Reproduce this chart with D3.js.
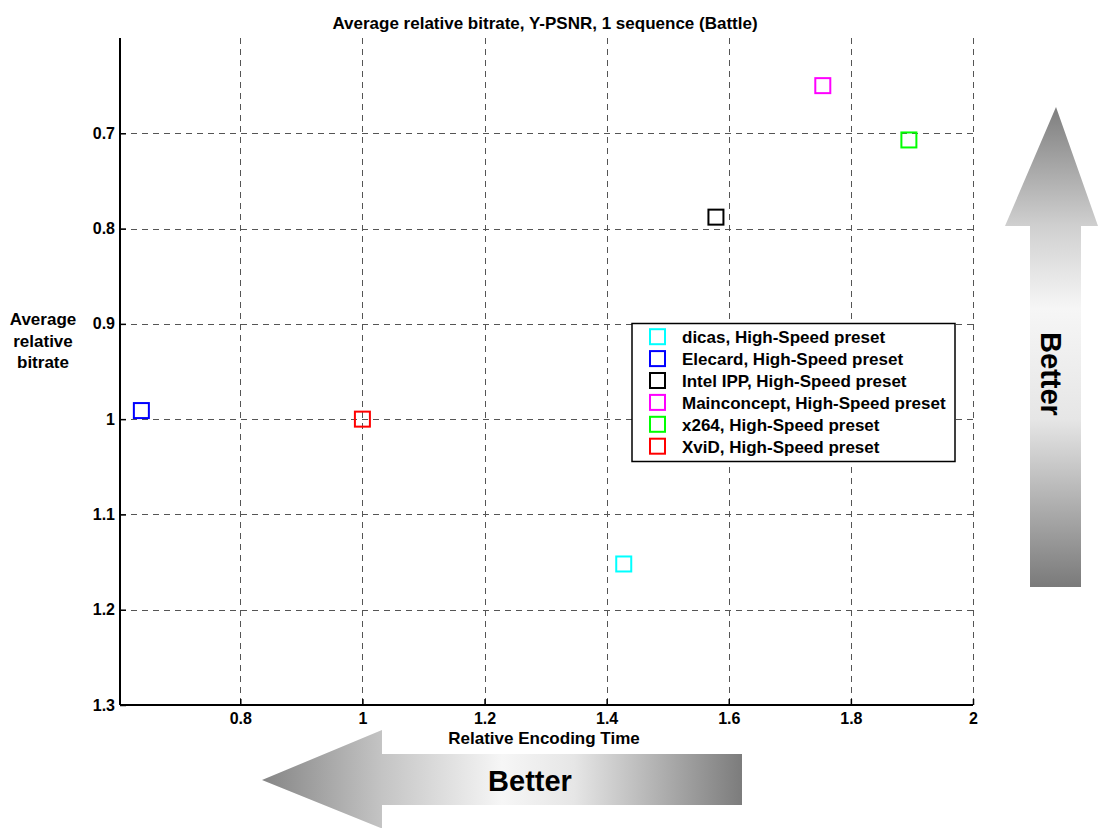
<!DOCTYPE html>
<html><head><meta charset="utf-8">
<script src="https://cdn.jsdelivr.net/npm/d3@7"></script>
<style>body{margin:0;background:#fff}svg{display:block}text{font-family:"Liberation Sans",Arial,sans-serif;font-weight:bold}</style>
</head><body><svg id="c" width="1099" height="828"></svg>
<script>
const codecs = ["dicas, High-Speed preset","Elecard, High-Speed preset","Intel IPP, High-Speed preset","Mainconcept, High-Speed preset","x264, High-Speed preset","XviD, High-Speed preset"];
const colors = ["#00ffff","#0000ff","#000000","#ff00ff","#00ff00","#ff0000"];
const encTime = [1.428, 0.638, 1.579, 1.754, 1.895, 1.0];
const bitrate = [1.152, 0.991, 0.788, 0.650, 0.707, 1.0];
const xTicks = [0.8, 1, 1.2, 1.4, 1.6, 1.8, 2];
const yTicks = [0.7, 0.8, 0.9, 1, 1.1, 1.2, 1.3];

const svg = d3.select("#c");
const L=120, R=973, T=38, B=705;
const x = d3.scaleLinear().domain([0.603, 2]).range([L, R]);
const y = d3.scaleLinear().domain([0.6, 1.3]).range([T, B]);

// grid
const g = svg.append("g");
g.selectAll(".vg").data(xTicks).join("line")
  .attr("x1",d=>Math.round(x(d))+0.5).attr("x2",d=>Math.round(x(d))+0.5)
  .attr("y1",T).attr("y2",B).attr("stroke","#555").attr("stroke-dasharray","6,5");
g.selectAll(".hg").data(yTicks).join("line")
  .attr("y1",d=>Math.round(y(d))+0.5).attr("y2",d=>Math.round(y(d))+0.5)
  .attr("x1",L).attr("x2",R).attr("stroke","#555").attr("stroke-dasharray","6,5");

// axes
const xa = svg.append("g").attr("transform",`translate(0,${B})`)
  .call(d3.axisBottom(x).tickValues(xTicks).tickSize(-6).tickPadding(8).tickFormat(d3.format("~g")));
const ya = svg.append("g").attr("transform",`translate(${L},0)`)
  .call(d3.axisLeft(y).tickValues(yTicks).tickSize(-6).tickPadding(5).tickFormat(d3.format("~g")));
[xa,ya].forEach(a=>{
  a.select(".domain").attr("stroke","#000").attr("stroke-width",2);
  a.selectAll(".tick line").attr("stroke","#000").attr("stroke-width",1.5);
  a.selectAll("text").attr("font-size",16).attr("font-family","Liberation Sans, Arial").attr("font-weight","bold").attr("fill","#000");
});
xa.select(".domain").attr("d",`M${L},0H${R}`);
ya.select(".domain").attr("d",`M0,${T}V${B}`);

// title & labels
svg.append("text").attr("x",545).attr("y",28.7).attr("text-anchor","middle").attr("font-size",17).text("Average relative bitrate, Y-PSNR, 1 sequence (Battle)");
svg.append("text").attr("x",544).attr("y",744).attr("text-anchor","middle").attr("font-size",17).text("Relative Encoding Time");
const yl = svg.append("text").attr("text-anchor","middle").attr("font-size",17);
["Average","relative","bitrate"].forEach((t,i)=>yl.append("tspan").attr("x",43).attr("y",325+i*21.7).text(t));

// points
svg.selectAll(".pt").data(codecs).join("rect")
  .attr("x",(d,i)=>x(encTime[i])-7.5).attr("y",(d,i)=>y(bitrate[i])-7.5)
  .attr("width",15).attr("height",15).attr("fill","none")
  .attr("stroke",(d,i)=>colors[i]).attr("stroke-width",2);

// legend
const lg = svg.append("g");
lg.append("rect").attr("x",632).attr("y",323.5).attr("width",323).attr("height",138).attr("fill","#fff").attr("stroke","#000").attr("stroke-width",1.5);
codecs.forEach((c,i)=>{
  const cy = 336.7 + i*21.9;
  lg.append("rect").attr("x",650).attr("y",cy-7.5).attr("width",15).attr("height",15).attr("fill","none").attr("stroke",colors[i]).attr("stroke-width",2);
  lg.append("text").attr("x",682).attr("y",cy+6.6).attr("font-size",17).text(c);
});

// arrows
const defs = svg.append("defs");
const gh = defs.append("linearGradient").attr("id","gh").attr("gradientUnits","userSpaceOnUse")
  .attr("x1",262).attr("x2",742).attr("y1",0).attr("y2",0);
[[0,"#858585"],[0.25,"#c4c4c4"],[0.5,"#f6f6f6"],[0.65,"#e6e6e6"],[1,"#7c7c7c"]].forEach(s=>gh.append("stop").attr("offset",s[0]).attr("stop-color",s[1]));
svg.append("path").attr("d","M262,780 L382,730 L382,754 L742,754 L742,805 L382,805 L382,828.5 Z").attr("fill","url(#gh)");
svg.append("text").attr("x",530).attr("y",791).attr("text-anchor","middle").attr("font-size",29).text("Better");

const gv = defs.append("linearGradient").attr("id","gv").attr("gradientUnits","userSpaceOnUse")
  .attr("x1",0).attr("x2",0).attr("y1",107).attr("y2",587);
[[0,"#7e7e7e"],[0.25,"#d0d0d0"],[0.42,"#f6f6f6"],[0.65,"#e6e6e6"],[1,"#7a7a7a"]].forEach(s=>gv.append("stop").attr("offset",s[0]).attr("stop-color",s[1]));
svg.append("path").attr("d","M1056,107 L1098,226 L1081,226 L1081,587 L1030,587 L1030,226 L1005,226 Z").attr("fill","url(#gv)");
svg.append("text").attr("transform","translate(1041,374) rotate(90)").attr("text-anchor","middle").attr("font-size",29).text("Better");
</script></body></html>
